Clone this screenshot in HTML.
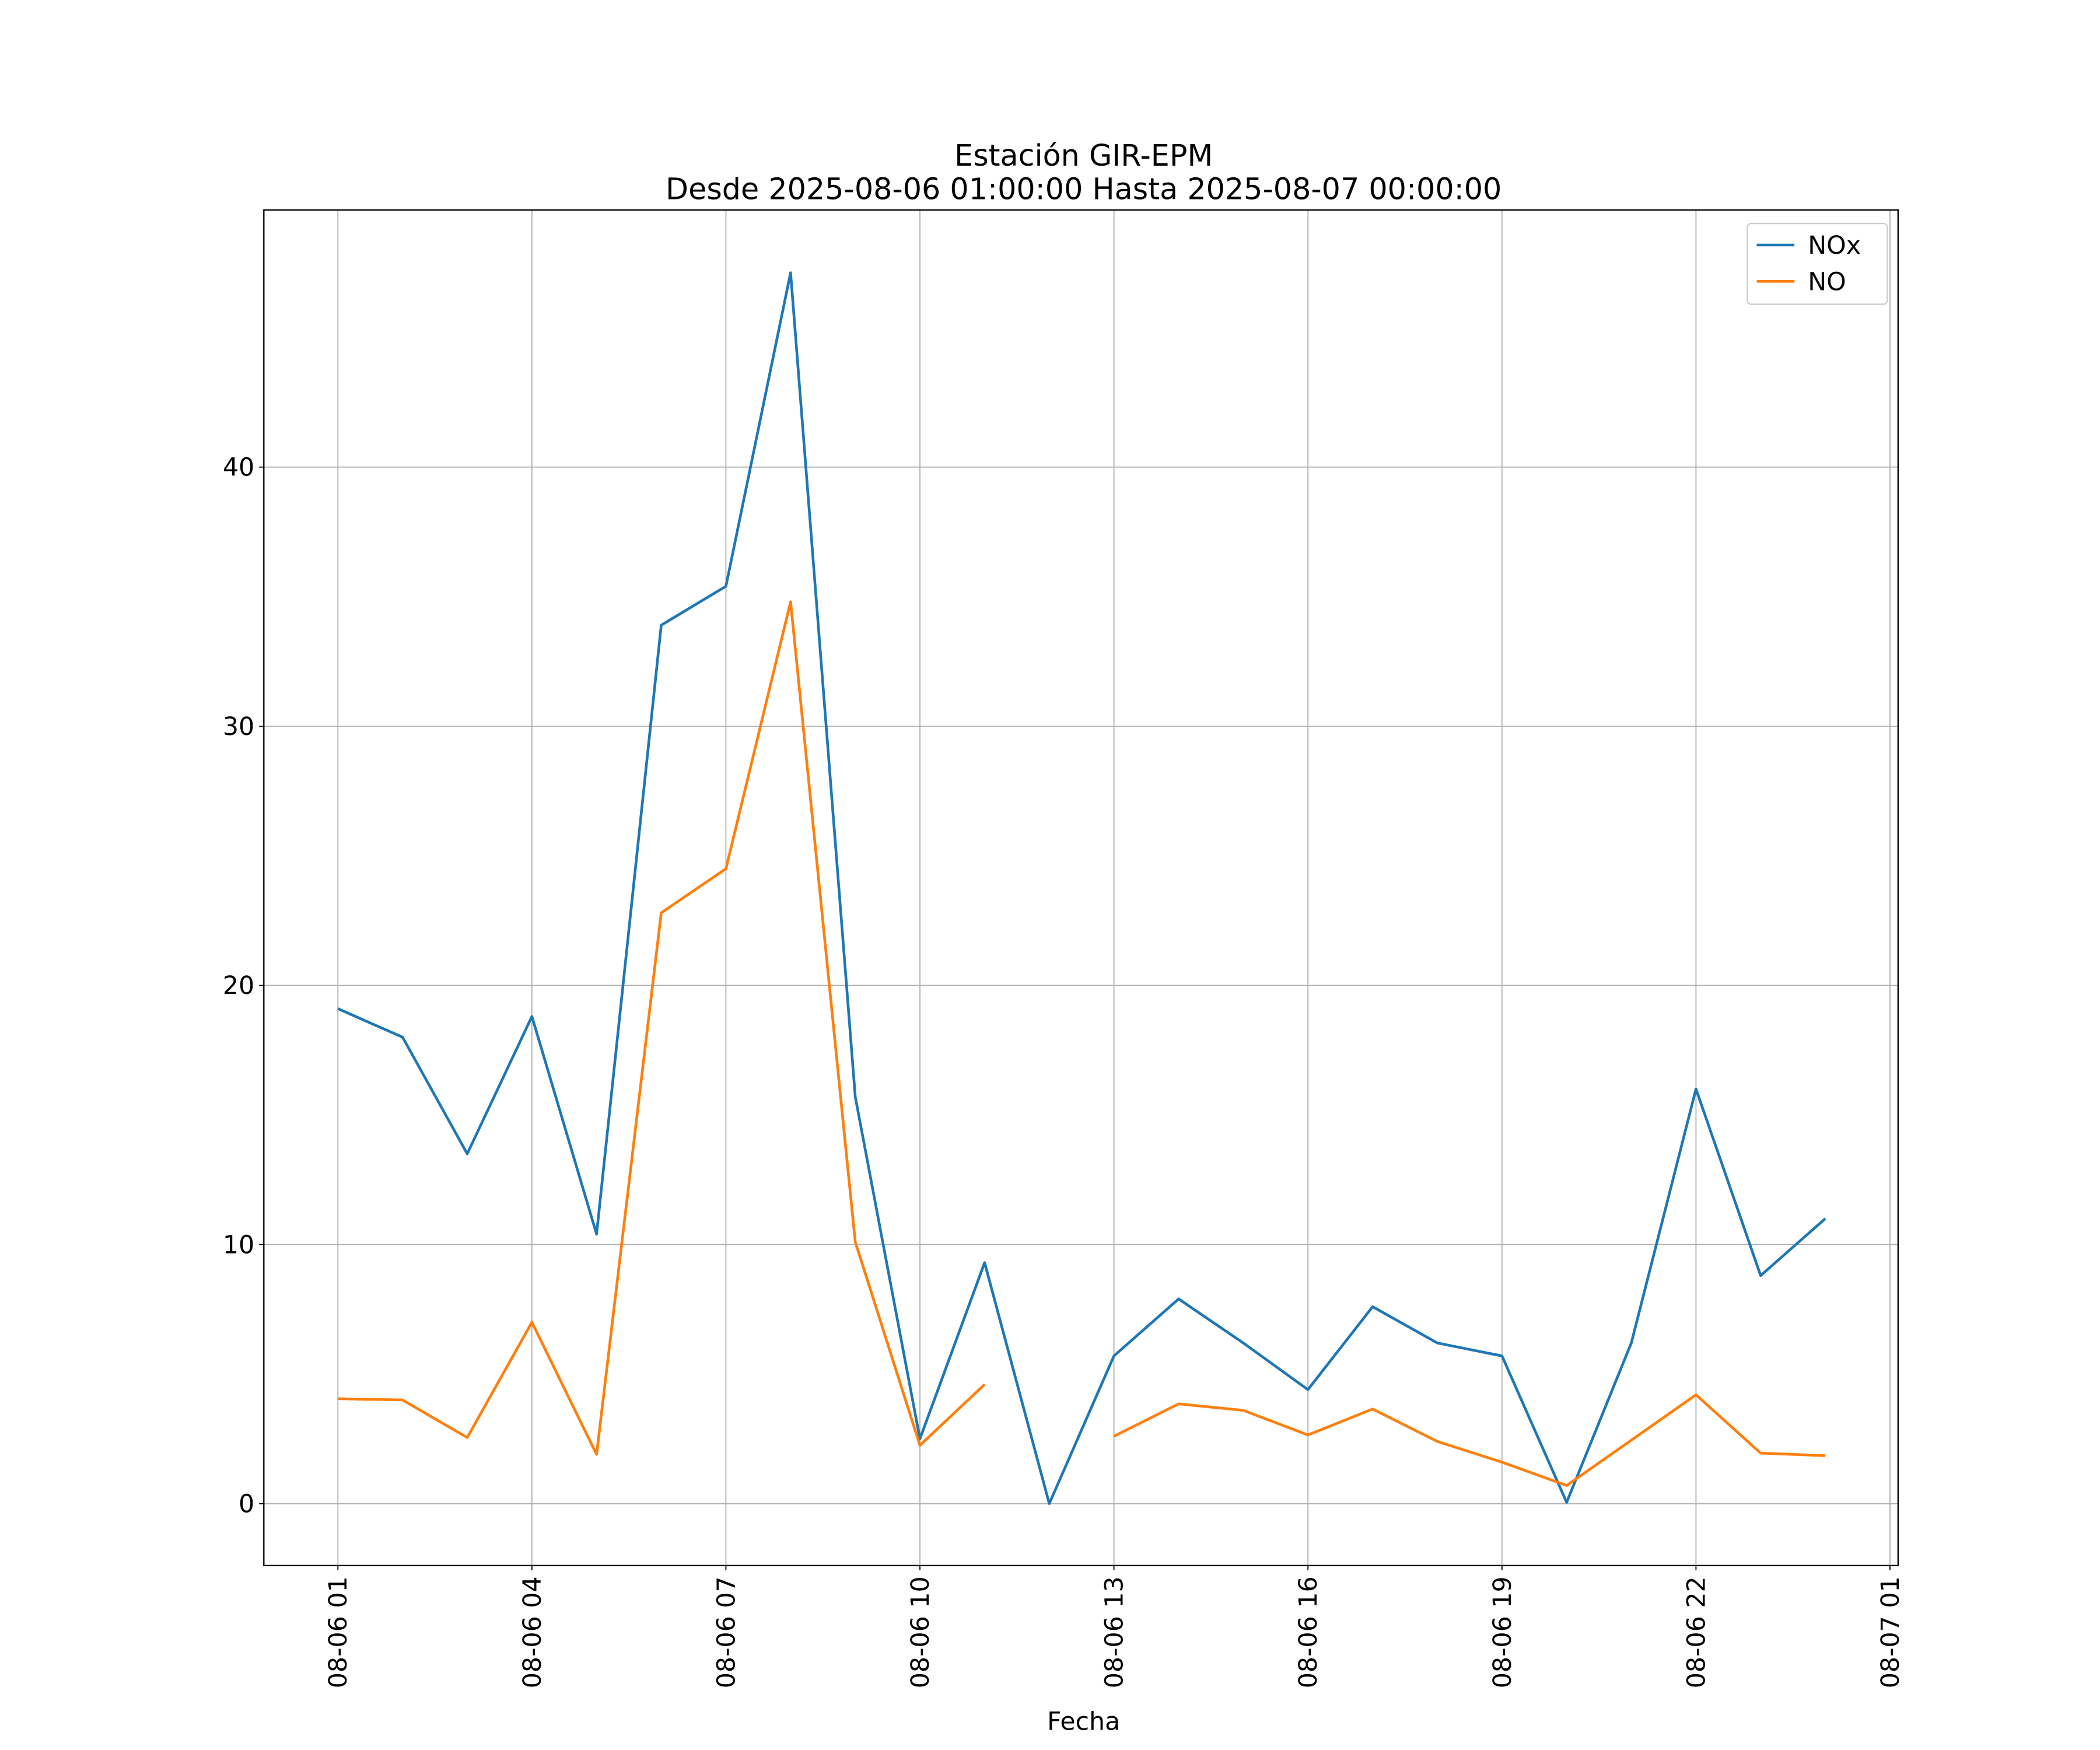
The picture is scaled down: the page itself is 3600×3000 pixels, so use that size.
<!DOCTYPE html>
<html><head><meta charset="utf-8"><style>
html,body{margin:0;padding:0;background:#fff}
svg{display:block}
text{font-family:"DejaVu Sans","Liberation Sans",sans-serif;fill:#000}
</style></head><body>
<svg id="chart" width="3600" height="3000" viewBox="0 0 1560 1300" xmlns="http://www.w3.org/2000/svg">
<rect width="1560" height="1300" fill="#fff"/>
<g id="grid"></g>
<g id="series"></g>
<rect x="196" y="156" width="1214" height="1007" fill="none" stroke="#000" stroke-width="1"/>
<g id="ticks"></g>
<text x="805" y="123" font-size="22" text-anchor="middle">Estación GIR-EPM</text>
<text x="805" y="148" font-size="22" text-anchor="middle">Desde 2025-08-06 01:00:00 Hasta 2025-08-07 00:00:00</text>
<text x="805" y="1285" font-size="18.5" text-anchor="middle">Fecha</text>
<g>
<rect x="1298" y="166" width="104" height="60" rx="3" fill="#fff" stroke="#ccc" stroke-width="1"/>
<line x1="1305" y1="182" x2="1333" y2="182" stroke="#1f77b4" stroke-width="2"/>
<text x="1343" y="188.5" font-size="18.5">NOx</text>
<line x1="1305" y1="209" x2="1333" y2="209" stroke="#ff7f0e" stroke-width="2"/>
<text x="1343" y="215.5" font-size="18.5">NO</text>
</g>
</svg>
<script>
const hours = [0,1,2,3,4,5,6,7,8,9,10,11,12,13,14,15,16,17,18,19,20,21,22,23];
const noxValues = [19.1,18.0,13.5,18.8,10.4,33.9,35.4,47.5,15.7,2.5,9.3,0.0,5.7,7.9,6.2,4.4,7.6,6.2,5.7,0.05,6.2,16.0,8.8,11.0];
const noValues = [4.05,4.0,2.55,7.0,1.9,22.8,24.5,34.8,10.1,2.25,4.6,null,2.6,3.85,3.6,2.65,3.65,2.4,1.6,0.7,2.45,4.2,1.95,1.85];
const yTicks = [0,10,20,30,40];
const xTickHours = [0,3,6,9,12,15,18,21,24];
const xTickLabels = ["08-06 01","08-06 04","08-06 07","08-06 10","08-06 13","08-06 16","08-06 19","08-06 22","08-07 01"];

const L=196,R=1410,T=156,B=1163;
const xMin=-1.145,xMax=24.125,yMin=-2.39,yMax=49.92;
const xs=h=>L+(h-xMin)/(xMax-xMin)*(R-L);
const ys=v=>B-(v-yMin)/(yMax-yMin)*(B-T);
const NS="http://www.w3.org/2000/svg";
function mk(tag,attrs,parent){const e=document.createElementNS(NS,tag);for(const k in attrs)e.setAttribute(k,attrs[k]);parent.appendChild(e);return e;}
const grid=document.getElementById('grid'),ticks=document.getElementById('ticks'),series=document.getElementById('series');

yTicks.forEach(v=>{
  const y=ys(v);
  const g=mk('line',{x1:L,x2:R,y1:y,y2:y,stroke:'#b0b0b0','stroke-width':0.8},grid);
  
  
  mk('line',{x1:L-3.5,x2:L,y1:y,y2:y,stroke:'#000','stroke-width':0.8},ticks);
  const t=mk('text',{x:L-7,y:y+6.5,'font-size':18.5,'text-anchor':'end'},ticks);
  t.textContent=String(v);
  
  
});
xTickHours.forEach((h,i)=>{
  const x=xs(h);
  const g=mk('line',{x1:x,x2:x,y1:T,y2:B,stroke:'#b0b0b0','stroke-width':0.8},grid);
  
  
  mk('line',{x1:x,x2:x,y1:B,y2:B+3.5,stroke:'#000','stroke-width':0.8},ticks);
  const t=mk('text',{x:0,y:0,'font-size':18.5,'text-anchor':'end',transform:`translate(${x+6.5},${B+8}) rotate(-90)`},ticks);
  t.textContent=xTickLabels[i];
  
  
});
function drawSeries(vals,color,name){
  let segs=[],cur=[];
  vals.forEach((v,i)=>{if(v===null){if(cur.length)segs.push(cur);cur=[];}else cur.push(xs(hours[i]).toFixed(2)+','+ys(v).toFixed(2));});
  if(cur.length)segs.push(cur);
  segs.forEach(s=>{
    const p=mk('polyline',{points:s.join(' '),fill:'none',stroke:color,'stroke-width':2,'stroke-linejoin':'round'},series);
    
    
  });
}
drawSeries(noxValues,'#1f77b4','nox-line');
drawSeries(noValues,'#ff7f0e','no-line');
</script>
</body></html>
